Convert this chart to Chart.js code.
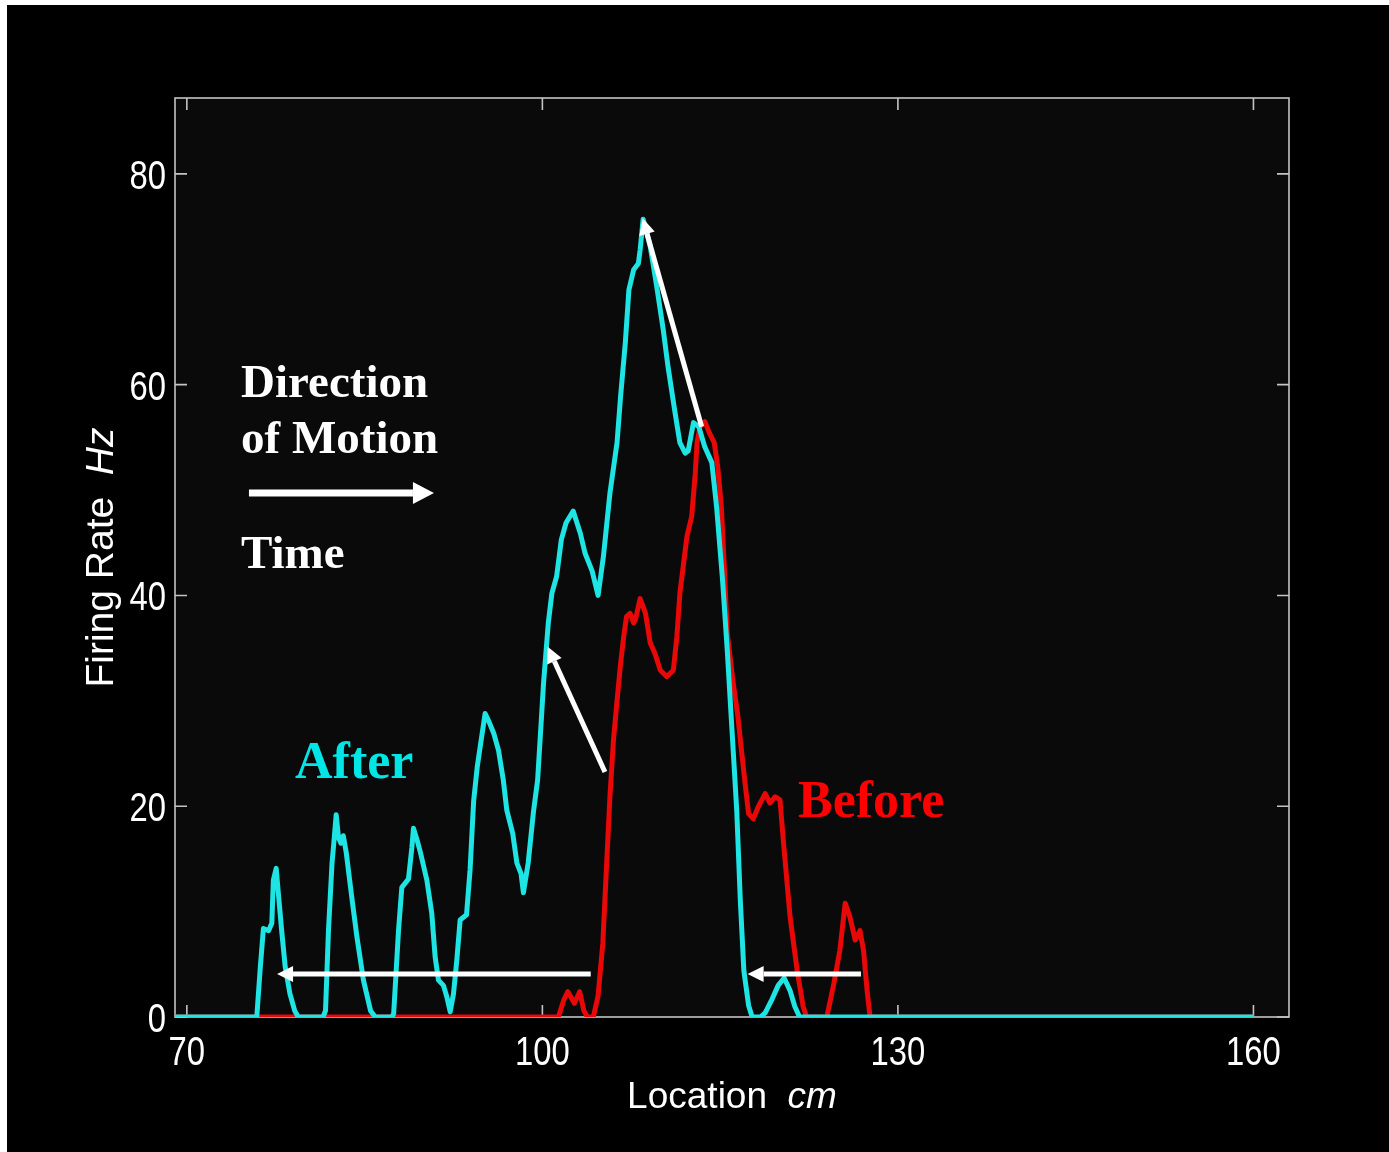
<!DOCTYPE html>
<html><head><meta charset="utf-8">
<script src="https://cdn.jsdelivr.net/npm/chart.js@4.4.1/dist/chart.umd.min.js"></script>
<style>html,body{margin:0;padding:0;background:#fff;overflow:hidden}#wrap{position:absolute;left:0;top:0;width:1389px;height:1152px}</style>
</head><body><div id="wrap"><canvas id="c" width="1389" height="1152"></canvas></div>
<script>
// ---- data ----
const xTicks = [70, 100, 130, 160];
const yTicks = [0, 20, 40, 60, 80];

// "After" (cyan) firing rate, location cm -> Hz
const afterX = [69,75.9,76.2,76.46,76.9,77.17,77.3,77.54,77.7,78.0,78.3,78.7,79.1,79.4,
 81.5,81.7,81.95,82.25,82.4,82.6,82.8,83.0,83.2,83.45,83.9,84.35,84.9,85.5,85.9,
 87.3,87.45,87.86,88.14,88.7,88.99,89.12,89.4,89.69,90.25,90.67,90.95,91.23,91.65,91.94,92.22,92.5,92.78,93.06,93.6,93.9,94.2,94.5,94.8,95.17,95.5,95.9,96.3,96.7,97.0,97.5,97.85,98.2,98.4,98.8,99.25,99.6,100.1,100.5,100.8,101.2,101.6,102.0,102.6,103.2,103.6,104.2,104.7,105.15,105.7,106.3,106.6,107.0,107.3,107.7,108.1,108.25,108.5,108.8,109.1,109.65,110.2,110.6,111.2,111.6,112.05,112.3,112.75,113.2,113.7,114.3,114.7,115.2,115.6,116.0,116.4,116.7,117.0,117.4,117.7,
 118.4,118.8,119.3,119.9,120.4,120.9,121.3,121.7,160];
const afterY = [0,0,4.75,8.4,8.2,8.9,13.0,14.1,12.0,8.2,4.75,2.2,0.6,0,
 0,0.6,8.2,14.6,16.5,19.2,17.0,16.5,17.2,15.6,11.5,7.6,3.5,0.6,0,
 0,0.3,8.2,12.3,13.1,16.1,17.9,16.9,15.7,13.0,9.8,5.7,3.5,3.0,1.9,0.5,2.2,5.4,9.2,9.7,14.0,20.5,23.7,26.0,28.8,28.0,26.9,25.3,22.5,19.6,17.4,14.6,13.6,11.8,14.6,19.5,22.5,31.7,37.4,40.2,41.8,45.3,46.9,48.0,45.9,44.0,42.3,40.0,43.7,49.7,54.5,58.9,64.0,69.0,70.9,71.5,72.8,75.7,74.5,73.1,69.3,65.2,61.7,57.3,54.5,53.5,53.7,56.4,56.0,54.1,52.6,48.4,41.5,34.8,27.2,19.6,11.1,4.4,1.1,0,
 0,0.4,1.5,3.0,3.7,2.5,1.0,0,0];

// "Before" (red) firing rate
const beforeX = [69,101.35,101.8,102.15,102.7,103.15,103.5,103.8,104.3,104.7,105.1,105.4,105.7,106.0,106.3,106.57,106.85,107.1,107.4,107.7,107.85,108.25,108.7,109.1,109.5,109.95,110.5,111.05,111.35,111.6,112.2,112.6,112.9,113.05,113.3,113.7,114.1,114.5,114.8,115.1,115.35,115.6,116.1,116.5,116.8,117.1,117.4,117.8,118.2,118.8,119.2,119.65,120.05,120.35,120.9,121.5,122.0,122.3,124.0,124.6,125.1,125.55,125.95,126.4,126.8,127.1,127.4,127.65,160];
const beforeY = [0,0,1.6,2.4,1.3,2.4,0.6,0,0,2.0,7.0,14.0,20.9,26.3,30.0,33.2,36.0,38.0,38.3,37.4,37.7,39.7,38.3,35.5,34.5,32.9,32.3,32.9,36.1,40.2,45.6,47.5,51.6,54.5,56.0,56.5,55.4,54.5,52.2,48.4,42.7,36.4,31.7,28.5,25.3,22.2,19.3,18.8,19.9,21.2,20.3,20.9,20.6,16.5,9.5,4.4,1.0,0,0,3.2,6.3,10.8,9.5,7.3,8.2,6.3,2.5,0,0];

// annotation arrows: [tailX, tailY, tipX, tipY] in data units
const arrowsData = [
  [104.08, 4.08, 77.61, 4.08],
  [126.88, 4.08, 117.32, 4.08],
  [105.28, 23.25, 100.45, 35.14],
  [113.44, 56.01, 108.46, 75.78]
];
const motionArrow = [75.24, 49.72, 90.85, 49.72];
// annotation texts: [text, x, y (baseline), colour key]
const notes = [
  ["Direction", 74.57, 58.83, "w"],
  ["of Motion", 74.57, 53.52, "w"],
  ["Time", 74.57, 42.6, "w"],
  ["After", 79.13, 22.68, "c"],
  ["Before", 121.57, 18.98, "r"]
];

const toPts = (xs, ys) => xs.map((x, i) => ({x, y: ys[i]}));

const CYAN = 'rgb(30,228,228)';
const RED = 'rgb(232,8,8)';
const SANS = '"Liberation Sans", Arial, sans-serif';
const SERIF = '"Liberation Serif", "Times New Roman", serif';
const NARROW = 0.82;

function drawArrow(ctx, x1, y1, x2, y2, w, hl, hw) {
  const a = Math.atan2(y2 - y1, x2 - x1);
  const bx = x2 - hl * Math.cos(a), by = y2 - hl * Math.sin(a);
  ctx.lineWidth = w;
  ctx.beginPath(); ctx.moveTo(x1, y1); ctx.lineTo(bx, by); ctx.stroke();
  ctx.beginPath(); ctx.moveTo(x2, y2);
  ctx.lineTo(bx + hw * Math.sin(a), by - hw * Math.cos(a));
  ctx.lineTo(bx - hw * Math.sin(a), by + hw * Math.cos(a));
  ctx.closePath(); ctx.fill();
}

function narrowText(ctx, txt, px, py, align) {
  ctx.save();
  ctx.translate(px, py);
  ctx.scale(NARROW, 1);
  ctx.textAlign = align;
  ctx.fillText(txt, 0, 0);
  ctx.restore();
}

const deco = {
  id: 'deco',
  beforeDraw(chart) {
    const {ctx, chartArea: a} = chart;
    ctx.save();
    ctx.fillStyle = '#fff'; ctx.fillRect(0, 0, chart.width, chart.height);
    ctx.fillStyle = '#000'; ctx.fillRect(7, 5, chart.width - 7, chart.height - 5);
    ctx.fillStyle = '#0a0a0a'; ctx.fillRect(a.left, a.top, a.right - a.left, a.bottom - a.top);
    ctx.restore();
  },
  beforeDatasetsDraw(chart) {
    const {ctx, chartArea: a, scales: {x, y}} = chart;
    ctx.save();
    ctx.strokeStyle = '#c4c4c4'; ctx.lineWidth = 1.6;
    ctx.strokeRect(a.left, a.top, a.right - a.left, a.bottom - a.top);
    const tl = 12;
    ctx.beginPath();
    x.ticks.forEach(t => {
      const p = x.getPixelForValue(t.value);
      ctx.moveTo(p, a.bottom); ctx.lineTo(p, a.bottom - tl);
      ctx.moveTo(p, a.top); ctx.lineTo(p, a.top + tl);
    });
    y.ticks.forEach(t => {
      const p = y.getPixelForValue(t.value);
      ctx.moveTo(a.left, p); ctx.lineTo(a.left + tl, p);
      ctx.moveTo(a.right, p); ctx.lineTo(a.right - tl, p);
    });
    ctx.stroke();
    // tick labels (condensed, as in the original bitmap font)
    ctx.fillStyle = '#fff';
    ctx.font = '40px ' + SANS;
    ctx.textBaseline = 'alphabetic';
    x.ticks.forEach(t => narrowText(ctx, String(t.value), x.getPixelForValue(t.value), a.bottom + 48, 'center'));
    y.ticks.forEach(t => narrowText(ctx, String(t.value), a.left - 9, y.getPixelForValue(t.value) + 15, 'right'));
    ctx.restore();
  },
  afterDraw(chart) {
    const {ctx, chartArea: a, scales: {x, y}} = chart;
    ctx.save();
    ctx.fillStyle = '#fff'; ctx.strokeStyle = '#fff'; ctx.lineCap = 'butt';
    arrowsData.forEach(d => drawArrow(ctx, x.getPixelForValue(d[0]), y.getPixelForValue(d[1]),
      x.getPixelForValue(d[2]), y.getPixelForValue(d[3]), 5, 16, 8));
    drawArrow(ctx, x.getPixelForValue(motionArrow[0]), y.getPixelForValue(motionArrow[1]),
      x.getPixelForValue(motionArrow[2]), y.getPixelForValue(motionArrow[3]), 7, 21, 11);
    ctx.textBaseline = 'alphabetic'; ctx.textAlign = 'left';
    notes.forEach(n => {
      const big = n[3] !== 'w';
      ctx.font = 'bold ' + (big ? 52 : 47) + 'px ' + SERIF;
      ctx.fillStyle = n[3] === 'c' ? '#00e6e6' : n[3] === 'r' ? '#ff0000' : '#ffffff';
      ctx.fillText(n[0], x.getPixelForValue(n[1]), y.getPixelForValue(n[2]));
    });
    // axis titles
    ctx.fillStyle = '#fff';
    function mixed(parts, cx, cy, fs) {
      let total = 0;
      parts.forEach(p => { ctx.font = (p[1] ? 'italic ' : '') + fs + 'px ' + SANS; p.w = ctx.measureText(p[0]).width; total += p.w; });
      let cur = cx - total / 2;
      parts.forEach(p => { ctx.font = (p[1] ? 'italic ' : '') + fs + 'px ' + SANS; ctx.fillText(p[0], cur, cy); cur += p.w; });
    }
    mixed([["Location  ", false], ["cm", true]], (a.left + a.right) / 2, 1108, 37);
    ctx.save();
    ctx.translate(113, (a.top + a.bottom) / 2);
    ctx.rotate(-Math.PI / 2);
    mixed([["Firing Rate  ", false], ["Hz", true]], 0, 0, 39);
    ctx.restore();
    ctx.restore();
  }
};

new Chart(document.getElementById('c'), {
  type: 'line',
  data: {
    datasets: [
      {label: 'After', data: toPts(afterX, afterY), borderColor: CYAN, borderWidth: 5, pointRadius: 0, tension: 0, fill: false, borderJoinStyle: 'round'},
      {label: 'Before', data: toPts(beforeX, beforeY), borderColor: RED, borderWidth: 5, pointRadius: 0, tension: 0, fill: false, borderJoinStyle: 'round'}
    ]
  },
  options: {
    responsive: false, animation: false, devicePixelRatio: 1,
    layout: {padding: {top: 98, right: 100, left: 0, bottom: 0}},
    plugins: {legend: {display: false}, tooltip: {enabled: false}},
    scales: {
      x: {
        type: 'linear', min: 69, max: 163,
        afterBuildTicks: s => { s.ticks = xTicks.map(v => ({value: v})); },
        afterFit: s => { s.height = 135; },
        grid: {display: false, drawTicks: false}, border: {display: false},
        ticks: {display: false}
      },
      y: {
        type: 'linear', min: 0, max: 87.2,
        afterBuildTicks: s => { s.ticks = yTicks.map(v => ({value: v})); },
        afterFit: s => { s.width = 175; },
        grid: {display: false, drawTicks: false}, border: {display: false},
        ticks: {display: false}
      }
    }
  },
  plugins: [deco]
});
</script></body></html>
